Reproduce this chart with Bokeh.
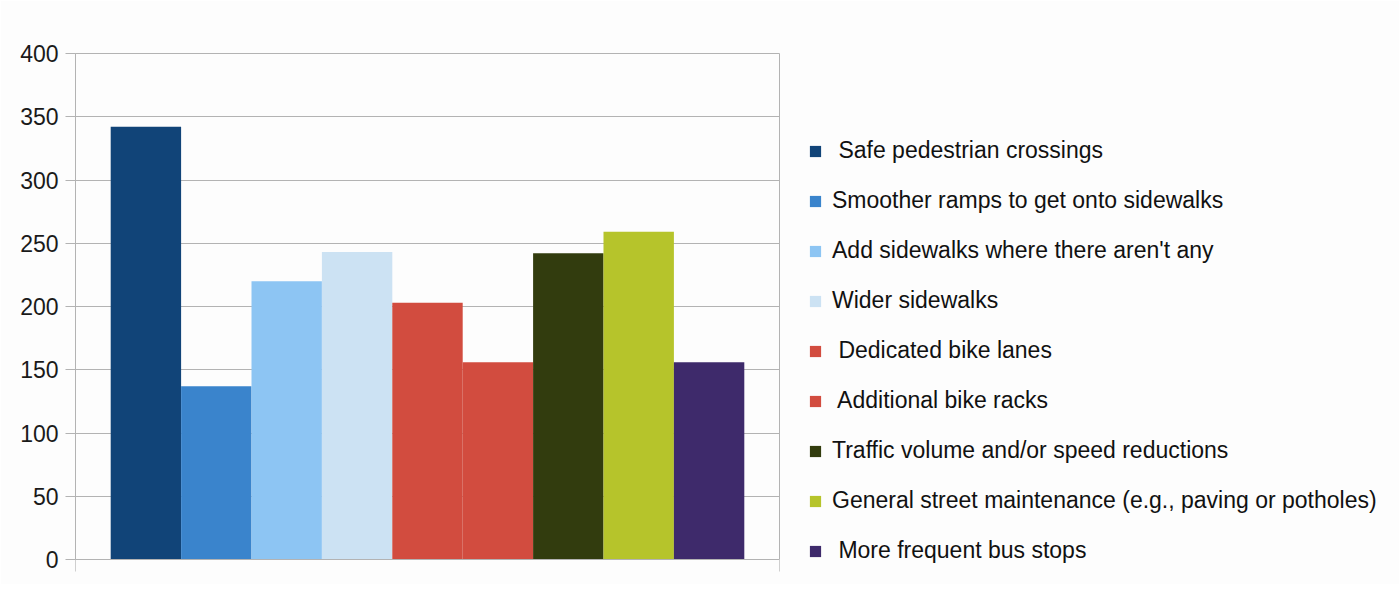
from bokeh.plotting import figure
from bokeh.models import Legend, LegendItem, FixedTicker, Range1d, ColumnDataSource
from bokeh.embed import file_html
from bokeh.resources import INLINE

categories = [
    " Safe pedestrian crossings",
    "Smoother ramps to get onto sidewalks",
    "Add sidewalks where there aren't any",
    "Wider sidewalks",
    " Dedicated bike lanes",
    " Additional bike racks",
    "Traffic volume and/or speed reductions",
    "General street maintenance (e.g., paving or potholes)",
    " More frequent bus stops",
]
values = [342, 137, 220, 243, 203, 156, 242, 259, 156]
colors = ["#114478", "#3a84cc", "#8dc5f3", "#cce2f3", "#d24c3f",
          "#d24c3f", "#323c0e", "#b6c42b", "#3e2a6b"]
y_ticks = [0, 50, 100, 150, 200, 250, 300, 350, 400]

FONT = "Liberation Sans"

p = figure(frame_width=704, frame_height=506, output_backend="svg",
           toolbar_location=None,
           x_range=Range1d(-1, 9), y_range=Range1d(0, 400),
           min_border_left=75, min_border_right=0, min_border_top=53,
           min_border_bottom=25)
p.background_fill_color = "#fdfdfd"
p.border_fill_color = "#fdfdfd"
p.outline_line_color = "#b3b3b3"

src = ColumnDataSource(dict(x=list(range(len(values))), top=values,
                            color=colors, label=categories))
r = p.vbar(x="x", top="top", width=1.0, bottom=0, fill_color="color",
           line_color=None, source=src)

# y axis
p.yaxis.ticker = FixedTicker(ticks=y_ticks)
p.yaxis.axis_line_color = "#b3b3b3"
p.yaxis.major_tick_line_color = "#b3b3b3"
p.yaxis.major_tick_out = 10
p.yaxis.major_tick_in = 0
p.yaxis.minor_tick_line_color = None
p.yaxis.major_label_text_font = FONT
p.yaxis.major_label_text_font_size = "23px"
p.yaxis.major_label_text_color = "#1a1a1a"
p.yaxis.major_label_standoff = 7

# x axis
p.xaxis.ticker = FixedTicker(ticks=[-1, 9])
p.xaxis.major_label_overrides = {-1: "", 9: ""}
p.xaxis.major_label_text_font_size = "4px"
p.xaxis.axis_line_color = "#b3b3b3"
p.xaxis.major_tick_line_color = "#cfcfcf"
p.xaxis.major_tick_out = 12
p.xaxis.major_tick_in = 0
p.xaxis.minor_tick_line_color = None

p.xgrid.grid_line_color = None
p.ygrid.grid_line_color = "#b3b3b3"

items = [LegendItem(label=categories[i], renderers=[r], index=i)
         for i in range(len(categories))]
legend = Legend(items=items, location=(29, -5), orientation="vertical",
                margin=0, padding=0, spacing=23,
                glyph_width=14, glyph_height=14, label_height=26,
                label_standoff=10,
                label_text_font=FONT, label_text_font_size="23px",
                label_text_color="#111111",
                background_fill_alpha=0, border_line_color=None)
p.add_layout(legend, "right")

open("out.html", "w").write(file_html(p, INLINE))
